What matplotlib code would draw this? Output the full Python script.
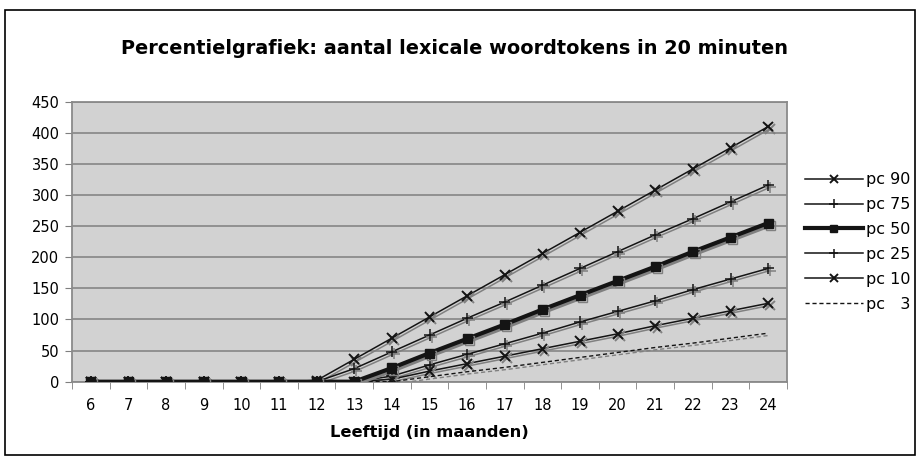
import numpy as np
import matplotlib
matplotlib.use("Agg")
import matplotlib.pyplot as plt
import matplotlib.patheffects as pe
from matplotlib.patches import Rectangle

maanden = [6, 7, 8, 9, 10, 11, 12, 13, 14, 15, 16, 17, 18, 19, 20, 21, 22, 23, 24]
pc90 = [0, 0, 0, 0, 0, 0, 2, 36, 70, 104, 138, 172, 206, 240, 274, 308, 342, 376, 410]
pc75 = [0, 0, 0, 0, 0, 0, 0, 21, 48, 75, 102, 128, 155, 182, 209, 236, 262, 289, 316]
pc50 = [0, 0, 0, 0, 0, 0, 0, 0, 22, 46, 69, 92, 116, 139, 162, 185, 209, 232, 255]
pc25 = [0, 0, 0, 0, 0, 0, 0, 0, 9, 27, 44, 61, 78, 96, 113, 130, 148, 165, 182]
pc10 = [0, 0, 0, 0, 0, 0, 0, 0, 4, 17, 29, 41, 53, 65, 77, 90, 102, 114, 126]
pc3 = [0, 0, 0, 0, 0, 0, 0, 0, 0, 8, 16, 23, 31, 39, 47, 55, 62, 70, 78]

plt.rcParams['font.family'] = ['DejaVu Sans']

fig = plt.figure(figsize=(9.19, 4.61), dpi=100)
# outer frame like the excel chart area
fig.patches.append(Rectangle((5/919, 6/461), 910/919, 445/461, transform=fig.transFigure,
                             fill=False, edgecolor='black', linewidth=1.2))
ax = fig.add_axes([72/919, 1-381.7/461, 715/919, 280/461])
ax.set_facecolor('#d2d2d2')

x = np.arange(len(maanden))
shadow = [pe.SimpleLineShadow(offset=(1.5, -1.5), shadow_color='#808080', alpha=1.0), pe.Normal()]

series = [
    ("pc 90", pc90, dict(marker='x', markersize=7, markeredgewidth=1.4, linewidth=1.1)),
    ("pc 75", pc75, dict(marker='+', markersize=8, markeredgewidth=1.1, linewidth=1.1)),
    ("pc 50", pc50, dict(marker='s', markersize=6.5, linewidth=3.0)),
    ("pc 25", pc25, dict(marker='+', markersize=8, markeredgewidth=1.1, linewidth=1.1)),
    ("pc 10", pc10, dict(marker='x', markersize=7, markeredgewidth=1.4, linewidth=1.1)),
    ("pc   3", pc3, dict(linestyle=(0, (3, 2)), linewidth=1.0)),
]
handles = []
for naam, vals, kw in series:
    z = 5 if naam == "pc 50" else 3
    ln, = ax.plot(x, vals, color='#141414', label=naam, zorder=z, **kw)
    ln.set_path_effects(shadow)
    handles.append(ln)

ax.set_xlim(-0.5, len(maanden) - 0.5)
ax.set_ylim(0, 450)
ax.set_yticks(np.arange(0, 451, 50))
ax.yaxis.grid(True, color='#7f7f7f', linewidth=1.1)
ax.set_axisbelow(True)
ax.set_xticks(x)
ax.set_xticklabels([str(m) for m in maanden])
ax.set_xticks(np.arange(-0.5, len(maanden), 1), minor=True)
ax.tick_params(axis='x', which='major', length=0, labelsize=10.5, pad=11.5)
ax.tick_params(axis='x', which='minor', length=5, color='#7f7f7f', direction='out')
ax.tick_params(axis='y', length=5, color='#7f7f7f', labelsize=10.5, pad=4)
for s in ax.spines.values():
    s.set_color('#8a8a8a')
    s.set_linewidth(1.3)

ax.set_xlabel("Leeftijd (in maanden)", fontsize=11.7, fontweight='bold', labelpad=9)
fig.text(0.495, 1-48/461, "Percentielgrafiek: aantal lexicale woordtokens in 20 minuten",
         ha='center', va='center', fontsize=13.9, fontweight='bold')

leg = fig.legend(handles=handles, loc='center left', bbox_to_anchor=(805/919, 1-242/461),
                 frameon=False, fontsize=11.5, handlelength=3.6, handletextpad=0.25,
                 labelspacing=0.62, borderpad=0, borderaxespad=0, markerscale=0.8)
for lh in leg.get_lines():
    lh.set_path_effects([pe.Normal()])

fig.savefig("out.png", dpi=100)
